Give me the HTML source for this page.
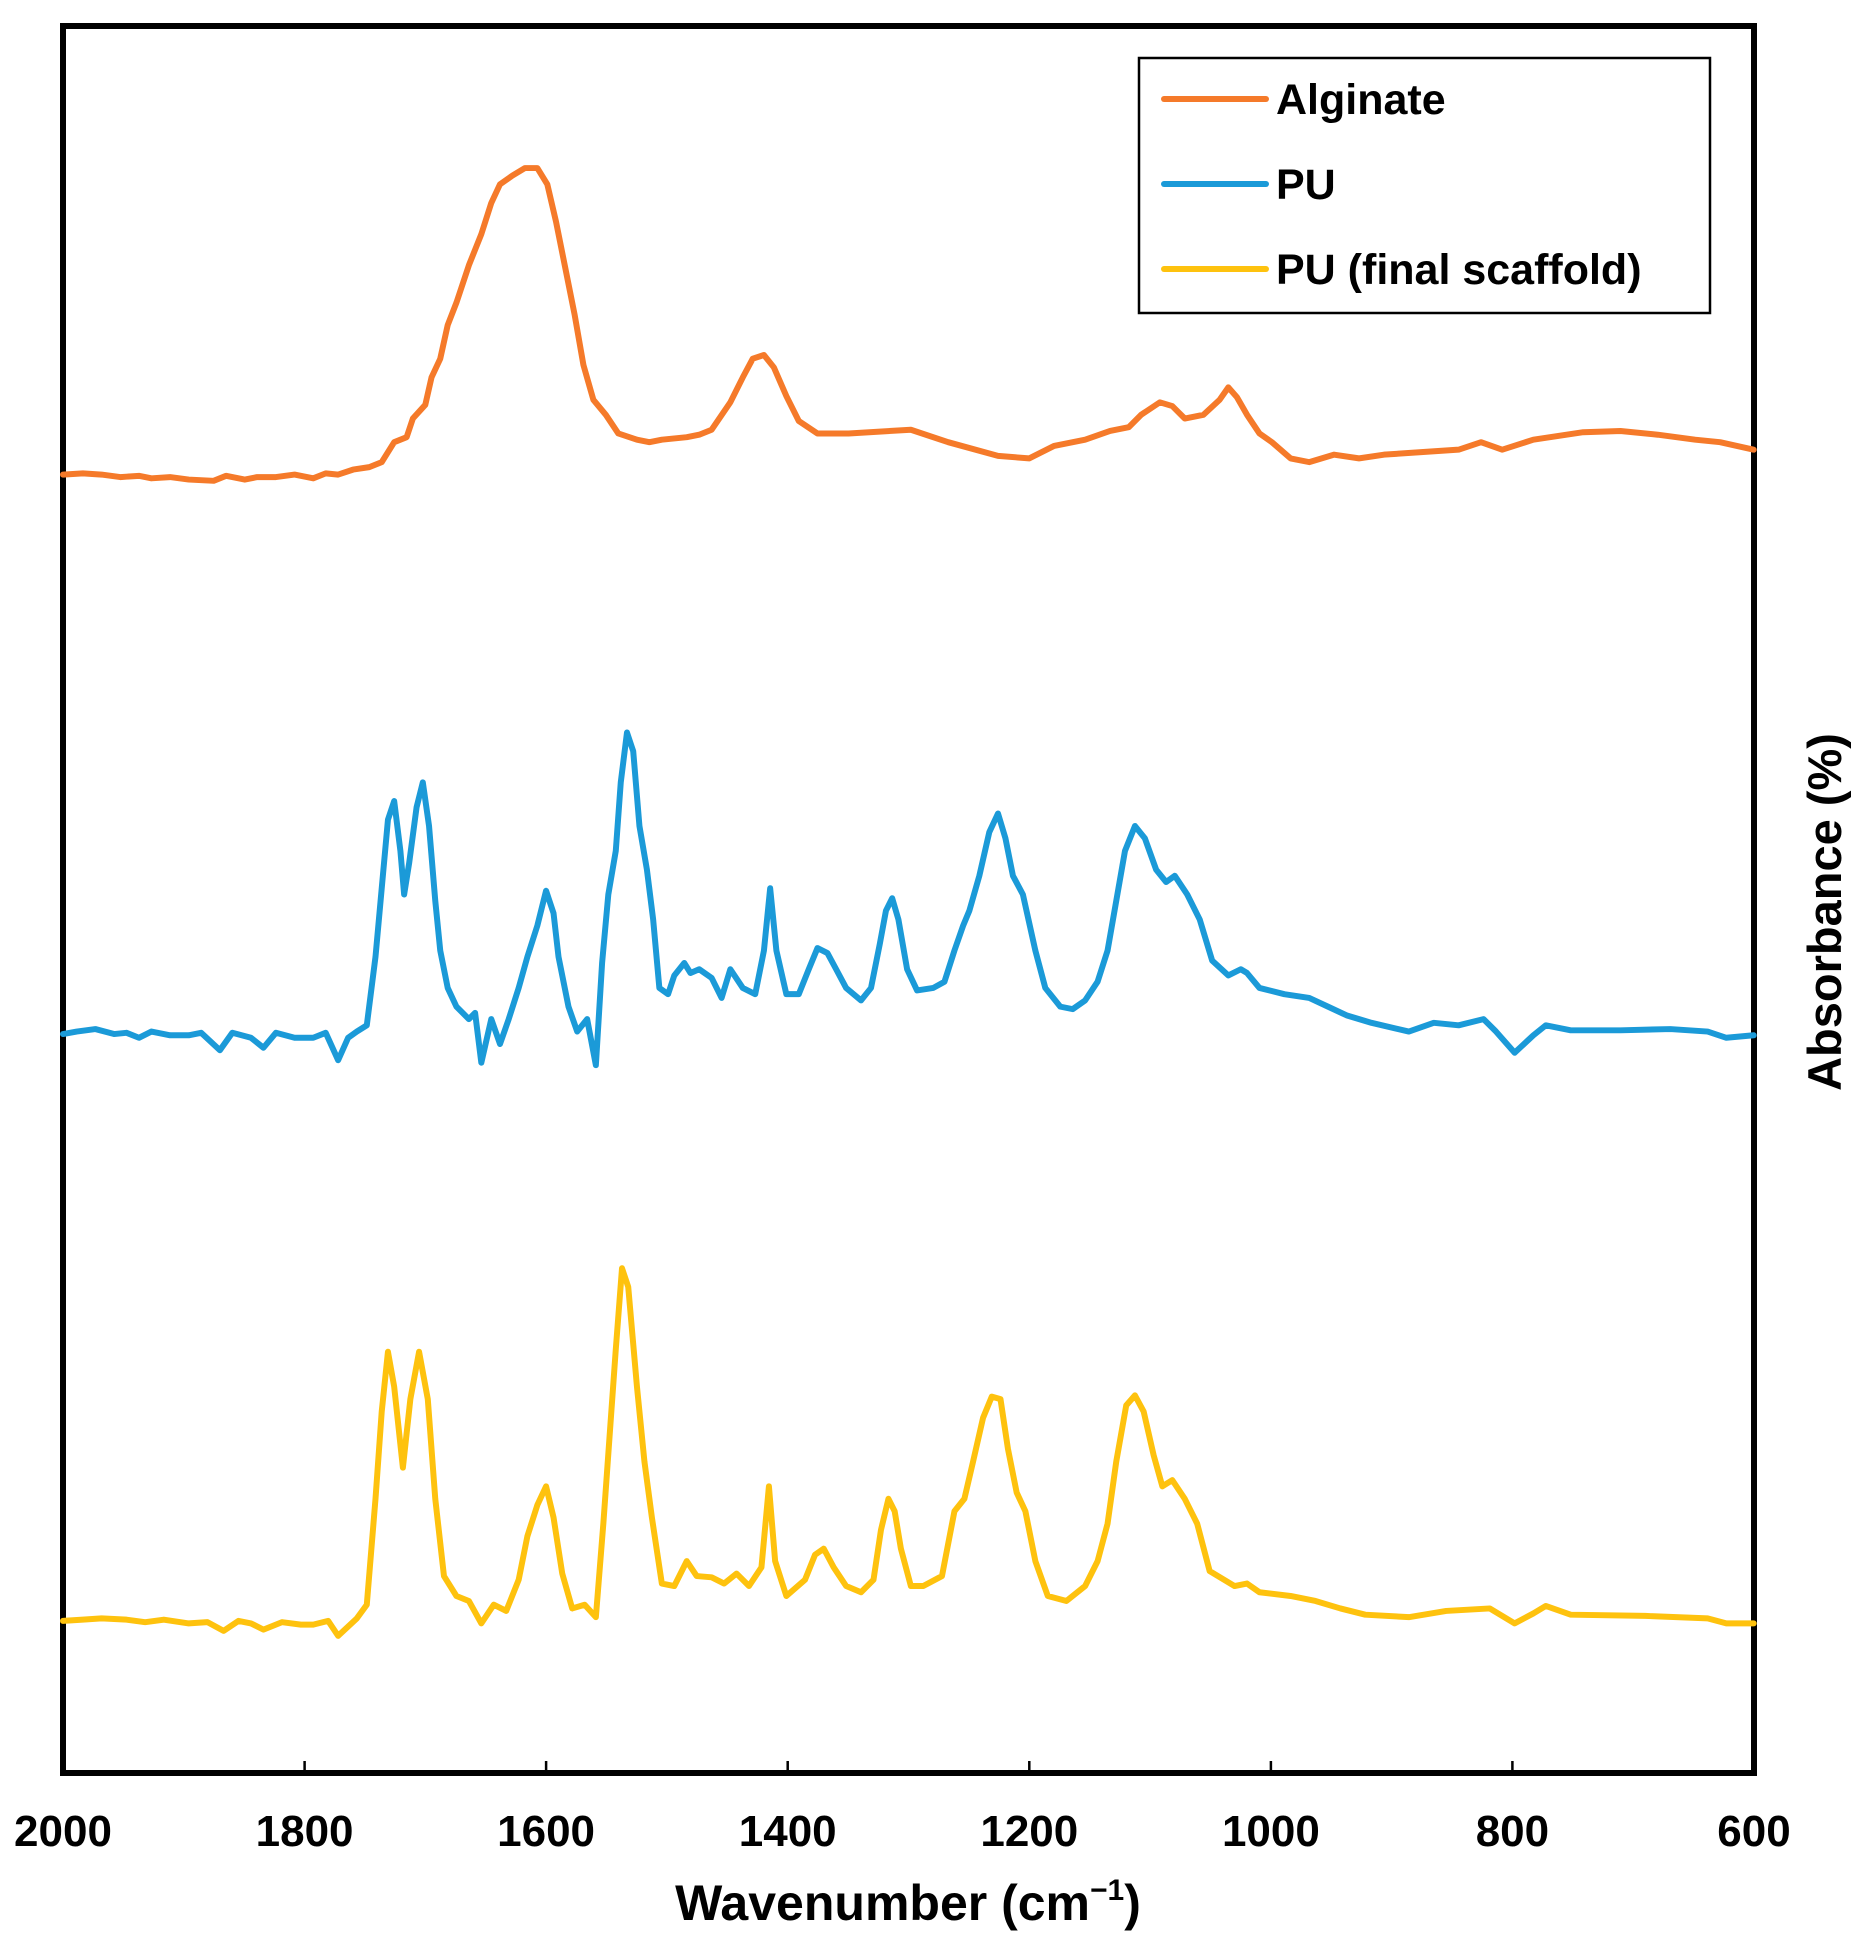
<!DOCTYPE html>
<html><head><meta charset="utf-8"><style>
html,body{margin:0;padding:0;background:#fff;}
svg{display:block;}
text{font-family:"Liberation Sans",Arial,sans-serif;font-weight:bold;fill:#000;}
</style></head><body>
<svg width="1866" height="1957" viewBox="0 0 1866 1957" xmlns="http://www.w3.org/2000/svg">
<rect x="63" y="26" width="1691" height="1747" fill="none" stroke="#000" stroke-width="6"/>
<g stroke="#000" stroke-width="2.5">
<line x1="304.6" y1="1773" x2="304.6" y2="1761"/>
<line x1="546.1" y1="1773" x2="546.1" y2="1761"/>
<line x1="787.7" y1="1773" x2="787.7" y2="1761"/>
<line x1="1029.3" y1="1773" x2="1029.3" y2="1761"/>
<line x1="1270.9" y1="1773" x2="1270.9" y2="1761"/>
<line x1="1512.4" y1="1773" x2="1512.4" y2="1761"/>
</g>
<g font-size="44" text-anchor="middle">
<text x="63" y="1846">2000</text>
<text x="304.6" y="1846">1800</text>
<text x="546.1" y="1846">1600</text>
<text x="787.7" y="1846">1400</text>
<text x="1029.3" y="1846">1200</text>
<text x="1270.9" y="1846">1000</text>
<text x="1512.4" y="1846">800</text>
<text x="1754" y="1846">600</text>
</g>
<text x="908" y="1920" font-size="50" text-anchor="middle">Wavenumber (cm<tspan font-size="30" dy="-20">−1</tspan><tspan dy="20">)</tspan></text>
<text transform="translate(1841,912) rotate(-90)" font-size="47" text-anchor="middle">Absorbance (%)</text>
<rect x="1139" y="58" width="571" height="255" fill="#fff" stroke="#000" stroke-width="2.5"/>
<g stroke-width="6" stroke-linecap="round">
<line x1="1164" y1="99" x2="1266" y2="99" stroke="#F57A2A"/>
<line x1="1164" y1="184" x2="1266" y2="184" stroke="#1B9AD8"/>
<line x1="1164" y1="269" x2="1266" y2="269" stroke="#FEC20E"/>
</g>
<g font-size="43">
<text x="1276" y="114">Alginate</text>
<text x="1276" y="199">PU</text>
<text x="1276" y="284">PU (final scaffold)</text>
</g>
<g transform="translate(2,3.6) scale(1.245,1.246)" fill="none" stroke-width="4.8" stroke-linejoin="round" stroke-linecap="round">
<polyline stroke="#F57A2A" points="49,378 65,377 80,378 95,380 110,379 120,381 135,380 150,382 170,383 180,379 195,382 205,380 220,380 235,378 250,381 260,377 270,378 282,374 295,372 305,368 315,352 325,348 330,333 340,322 345,300 352,285 358,258 365,240 375,210 385,185 393,160 400,145 410,138 420,132 430,132 438,145 445,175 452,210 460,250 467,290 475,318 485,330 495,345 510,350 520,352 530,350 540,349 550,348 560,346 570,342 585,320 595,300 603,285 612,282 620,292 630,315 640,335 655,345 680,345 730,342 760,352 800,363 825,365 845,355 870,350 890,343 905,340 915,330 930,320 940,323 950,333 965,330 978,318 985,308 992,316 1000,330 1010,345 1020,352 1035,365 1050,368 1070,362 1090,365 1110,362 1140,360 1170,358 1188,352 1205,358 1230,350 1270,344 1300,343 1330,346 1360,350 1380,352 1407,358"/>
<polyline stroke="#1B9AD8" points="49,827 60,825 75,823 90,827 100,826 110,830 120,825 135,828 150,828 160,826 175,840 185,826 200,830 210,838 220,826 235,830 250,830 260,826 270,848 278,830 285,825 293,820 300,765 305,710 310,655 315,640 320,680 323,715 327,690 333,645 338,625 343,660 348,720 352,760 358,790 365,805 375,815 380,810 385,850 393,815 400,835 407,815 415,790 422,765 430,740 437,712 443,730 447,765 455,805 462,825 470,815 477,852 482,770 487,715 493,680 497,625 502,585 507,600 512,660 518,695 523,735 528,790 535,795 540,780 548,770 553,778 560,775 570,782 578,798 585,775 595,790 605,795 612,760 617,710 622,760 630,795 640,795 648,775 655,758 663,762 670,775 678,790 690,800 698,790 705,755 710,728 715,718 720,735 727,775 735,792 748,790 757,785 765,760 772,740 777,728 785,700 793,665 800,650 806,670 812,700 820,715 830,760 838,790 850,805 860,807 870,800 880,785 888,760 895,720 902,680 910,660 918,670 927,695 935,705 942,700 952,715 962,735 972,768 985,780 995,775 1000,778 1010,790 1030,795 1050,798 1065,805 1080,812 1100,818 1130,825 1150,818 1170,820 1190,815 1200,825 1215,842 1230,828 1240,820 1260,824 1300,824 1340,823 1370,825 1385,830 1407,828"/>
<polyline stroke="#FEC20E" points="49,1298 65,1297 80,1296 100,1297 115,1299 130,1297 150,1300 165,1299 178,1306 190,1298 200,1300 210,1305 225,1299 240,1301 250,1301 262,1298 270,1310 285,1296 293,1285 300,1200 305,1130 310,1082 315,1110 322,1175 328,1120 335,1082 342,1120 348,1200 355,1262 365,1278 375,1282 385,1300 395,1285 405,1290 415,1265 422,1230 430,1205 437,1190 443,1215 450,1260 458,1288 468,1285 477,1295 483,1220 488,1150 493,1080 498,1015 503,1030 510,1110 516,1170 522,1215 530,1268 540,1270 550,1250 558,1262 570,1263 580,1268 590,1260 600,1270 610,1255 616,1190 621,1250 630,1278 645,1265 653,1245 660,1240 668,1255 678,1270 690,1275 700,1265 706,1225 712,1200 717,1210 722,1240 730,1270 740,1270 755,1262 765,1210 773,1200 780,1170 788,1135 795,1118 802,1120 808,1160 815,1195 822,1210 830,1250 840,1278 855,1282 870,1270 880,1250 888,1220 895,1170 903,1125 910,1117 917,1130 925,1165 932,1190 940,1185 950,1200 960,1220 970,1258 990,1270 1000,1268 1010,1275 1035,1278 1055,1282 1075,1288 1095,1293 1130,1295 1160,1290 1195,1288 1215,1300 1230,1292 1240,1286 1260,1293 1320,1294 1370,1296 1385,1300 1407,1300"/>
</g>
</svg>
</body></html>
